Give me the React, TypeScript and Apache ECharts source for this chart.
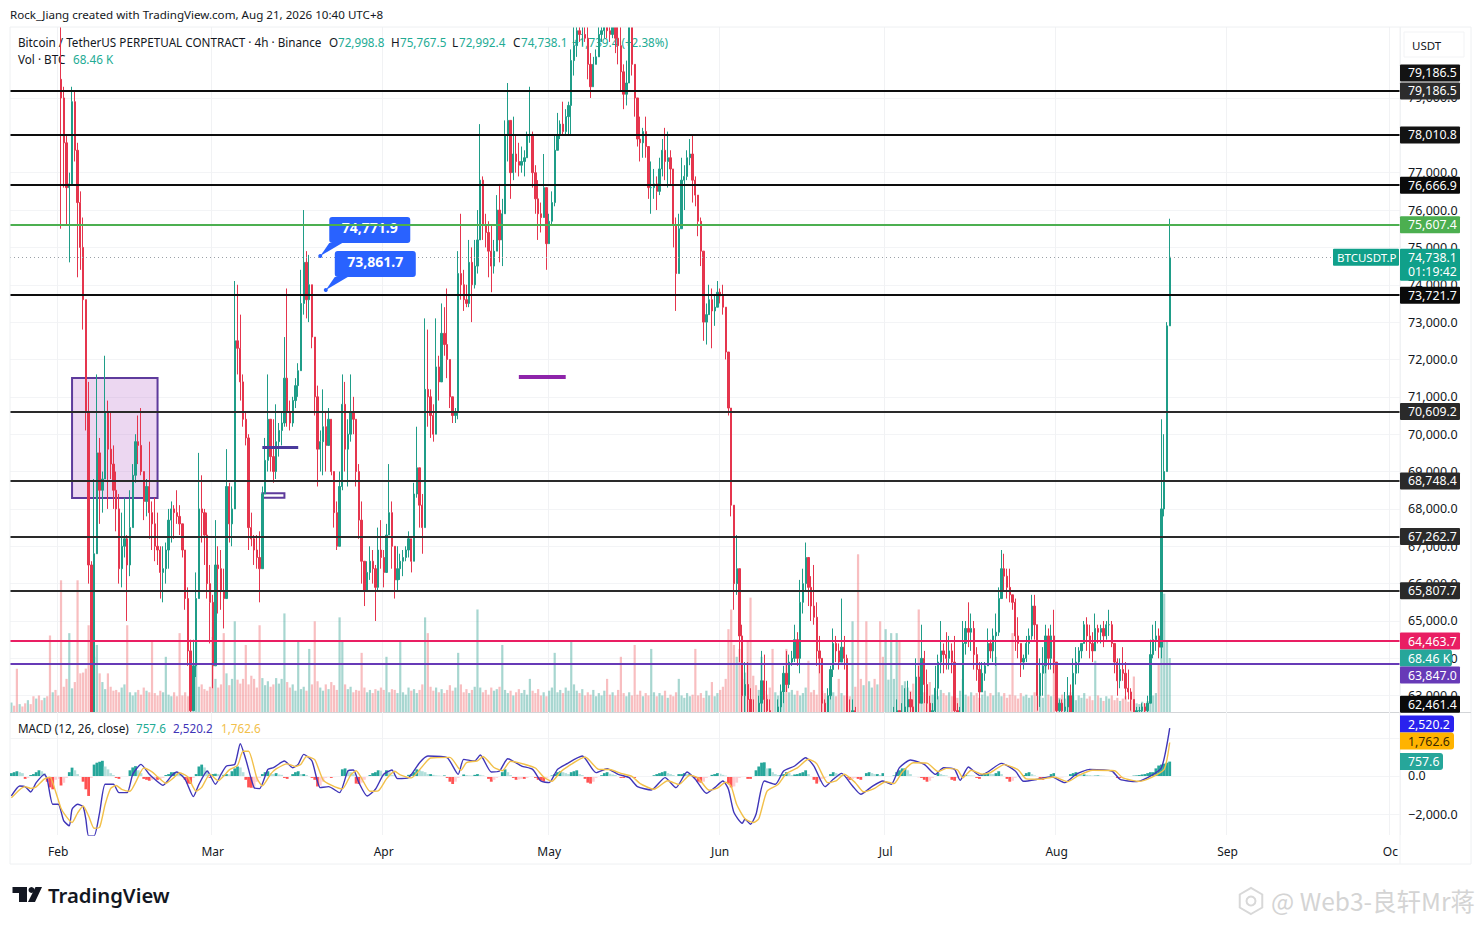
import React, { useEffect, useRef } from "react";
import * as echarts from "echarts";

// Price bars in thousands of USDT, as flat triples: high, low, close. Open is the previous close.
const firstBarSlot = 18;
const firstOpen = 79.5;
const barsFebMar = [
81.5,75.5,79.0, 79.3,76.6,77.8, 78.0,75.6,76.6, 77.0,74.6,76.7, 79.3,76.9,78.9, 79.2,77.3,77.6, 77.8,74.2,76.2, 76.5,74.4,75.0, 75.8,72.8,73.6, 73.2,70.1,70.6,
71.4,66.0,66.5, 66.6,61.5,62.0, 68.8,63.5,66.8, 71.6,67.5,69.5, 69.9,67.6,68.5, 69.0,67.9,68.8, 72.1,69.0,70.6, 70.9,68.0,69.6, 70.6,68.8,69.2, 69.7,68.0,68.5,
69.0,67.4,68.0, 68.4,66.0,66.4, 67.9,65.9,67.0, 68.3,66.7,67.2, 67.3,65.0,66.5, 68.5,66.2,67.5, 69.2,68.0,68.9, 70.0,68.7,69.8, 70.5,69.2,69.7, 70.7,68.9,69.0,
69.0,67.7,68.2, 68.8,67.8,68.6, 69.8,67.2,67.9, 68.2,66.9,67.6, 68.3,66.6,67.0, 67.9,66.5,66.9, 67.0,65.6,66.3, 67.0,65.5,66.4, 67.1,66.0,66.9, 68.0,66.4,67.7,
68.2,67.1,68.0, 68.1,67.2,67.9, 68.5,67.6,67.8, 68.1,67.3,67.6, 67.6,66.7,66.9, 66.8,65.3,65.6, 65.9,63.8,64.2, 64.5,62.2,62.6, 64.5,63.0,63.8, 66.3,63.5,65.6,
69.5,65.6,68.0, 68.9,67.1,67.9, 68.0,66.5,67.3, 67.9,65.6,66.0, 66.5,64.4,65.5, 65.7,63.2,63.8, 67.7,63.8,66.5, 67.0,65.2,66.4, 66.9,65.3,65.8, 66.4,64.8,65.6,
69.6,65.6,68.6, 68.7,67.1,67.6, 68.6,67.0,68.0, 74.1,68.0,72.5, 74.0,71.6,72.3, 73.2,70.9,71.4, 71.6,70.2,70.4, 70.6,69.7,69.9, 70.0,66.9,67.5, 67.9,67.0,67.2,
67.3,66.5,66.9, 67.3,66.4,66.7, 67.4,65.5,66.4, 68.6,66.4,68.4, 69.9,68.4,69.3, 71.6,69.0,70.4, 70.2,69.0,69.4, 70.4,68.7,69.0, 70.8,68.8,69.8, 70.3,69.4,70.1,
70.6,69.7,70.3, 72.6,70.2,71.5, 73.9,70.2,70.6, 70.9,70.1,70.3, 71.0,70.2,70.9, 71.5,70.7,71.3, 71.9,71.0,71.7, 74.4,71.7,73.5, 76.0,73.2,74.6, 74.9,73.1,73.6,
74.8,73.0,74.0,
];
const barsMarMay = [
74.0,72.3,72.6, 72.5,70.5,71.0, 71.3,68.6,69.6, 70.1,69.0,69.8, 71.2,68.9,70.2, 70.6,69.0,69.7, 70.7,69.7,70.4, 70.4,68.9,69.0, 69.0,67.5,67.9, 68.2,66.9,67.0,
69.0,67.0,68.6, 71.6,68.5,70.8, 71.4,69.0,69.6, 70.4,68.6,70.0, 71.6,69.8,70.6, 71.0,70.0,70.4, 70.4,68.6,69.0, 69.2,67.2,67.7, 68.2,66.0,66.6, 66.2,65.4,65.8,
66.6,65.9,66.3, 67.0,66.1,66.6, 66.9,66.0,66.4, 66.5,65.0,65.9, 67.5,65.8,66.9, 67.7,66.4,66.7, 66.9,65.9,66.3, 67.6,66.3,67.3, 69.2,67.3,67.9, 68.2,66.4,67.0,
66.9,65.6,66.1, 67.0,65.8,66.4, 66.8,66.1,66.6, 66.9,66.2,66.7, 67.0,66.6,66.9, 67.4,66.7,67.2, 67.2,66.3,66.6, 68.7,66.7,68.4, 70.2,68.3,69.1, 69.0,67.5,68.1,
68.4,66.8,67.5, 73.1,67.5,71.2, 72.8,70.2,71.0, 71.2,69.9,70.5, 70.8,69.8,70.0, 73.1,70.2,71.8, 72.1,70.9,71.4, 73.5,71.6,72.7, 73.4,72.1,72.4, 73.9,71.5,72.0,
71.4,70.7,71.0, 70.9,70.3,70.5, 70.7,70.3,70.6, 74.9,70.4,74.3, 75.9,73.6,74.0, 74.4,73.3,73.6, 74.0,73.4,73.5, 75.2,73.4,74.6, 75.0,73.0,74.0, 75.2,73.9,74.5,
76.0,74.3,75.2, 78.3,75.3,76.8, 76.9,75.2,75.6, 75.9,75.0,75.4, 75.7,74.2,74.9, 75.6,73.8,74.5, 75.2,74.3,74.9, 76.4,74.9,76.0, 76.7,74.6,75.2, 76.3,74.5,75.9,
78.4,76.0,78.0, 79.4,77.3,78.4, 78.4,76.3,77.0, 78.5,76.8,77.5, 78.0,77.0,77.3, 77.8,76.9,77.2, 77.7,77.0,77.3, 77.6,76.9,77.4, 78.1,77.4,78.0, 79.3,77.8,78.0,
78.1,76.6,77.0, 77.2,75.9,76.3, 76.8,75.2,75.9, 76.2,75.4,75.8, 77.5,75.8,76.6, 76.6,74.4,75.1, 75.9,75.3,75.7, 76.5,75.6,76.2, 78.0,76.1,77.6, 78.6,77.8,78.0,
78.4,77.9,78.3, 78.9,78.0,78.1, 78.7,78.0,78.5, 78.9,78.0,78.8, 80.3,78.0,80.0, 81.0,79.6,80.4, 81.2,80.1,80.8, 81.3,80.5,80.7, 81.0,80.4,80.7, 81.2,80.5,80.6,
81.0,79.5,79.9, 80.2,79.0,79.3, 80.1,79.3,79.9, 80.3,79.9,80.1, 81.0,80.1,80.7,
];
const barsMayJun = [
81.2,80.5,80.8, 81.2,80.6,80.9, 81.0,80.6,80.8, 81.1,80.5,80.7, 81.1,80.6,80.9, 81.0,80.2,80.6, 81.0,79.9,80.4, 81.1,79.2,79.7, 79.9,78.7,79.1, 80.0,78.8,79.4,
81.2,79.4,80.9, 81.1,79.6,79.9, 79.9,78.5,79.0, 79.0,77.7,77.9, 78.5,77.3,77.8, 78.2,77.4,78.1, 78.5,77.4,77.7, 77.6,76.3,76.6, 77.3,75.9,76.6, 77.1,76.3,76.7,
76.9,76.0,76.5, 77.4,76.4,77.1, 77.9,76.9,77.6, 78.2,76.8,77.3, 78.1,76.6,77.4, 77.6,76.7,77.1, 77.1,75.0,75.6, 75.8,73.3,74.3, 75.9,74.3,75.5, 77.4,75.5,76.8,
77.2,76.0,76.9, 77.6,76.8,77.4, 77.9,77.2,77.5, 78.0,76.2,76.8, 76.9,76.1,76.4, 76.4,75.3,75.7, 75.8,74.5,74.9, 74.9,72.5,73.0, 73.5,72.4,73.2, 74.0,73.2,73.6,
73.9,72.3,73.3, 73.7,72.9,73.4, 74.1,73.4,73.8, 73.9,73.5,73.7, 74.0,73.2,73.4, 73.0,72.0,72.2, 72.0,70.5,70.7, 70.6,67.8,68.1, 67.9,65.3,66.0, 67.3,65.7,66.4,
65.9,63.9,64.6, 64.9,62.3,63.0, 63.9,62.4,63.3, 63.9,62.4,62.9, 63.2,62.2,62.5, 62.9,62.2,62.4, 62.4,62.0,62.2, 63.0,62.1,62.8, 64.2,62.5,63.4, 64.1,62.4,62.9,
63.4,62.3,62.6, 62.9,62.2,62.4, 62.5,62.2,62.3, 62.5,62.1,62.4, 62.9,62.2,62.7, 63.3,62.4,63.1, 63.8,62.8,63.6, 64.2,63.1,63.3, 64.1,63.2,63.9, 64.2,63.8,64.0,
64.9,63.9,64.5, 64.7,63.8,64.0, 66.1,63.6,65.5, 66.4,65.2,66.0, 67.1,65.8,66.7, 66.7,65.4,65.9, 66.2,65.0,65.4, 66.5,64.9,65.1, 65.5,63.8,64.2, 64.6,63.6,64.0,
64.0,62.4,62.8, 62.9,62.2,62.5, 63.2,62.4,63.0, 63.8,62.9,63.7, 64.8,63.5,64.4, 64.6,63.9,64.2, 64.4,63.7,63.9, 65.6,64.0,64.3, 64.6,63.7,64.0, 64.1,62.3,62.5,
62.9,62.2,62.4, 62.9,62.3,62.6, 62.7,62.1,62.3, 62.3,61.6,61.9, 62.2,61.5,61.8, 62.3,61.7,62.0, 62.2,61.5,61.7, 62.1,61.4,61.9, 62.3,61.6,62.0, 62.2,61.6,61.8,
62.3,61.5,62.1, 62.4,61.8,62.0, 62.2,61.6,61.9, 62.3,61.7,62.1, 62.4,61.8,62.1,
];
const barsJulAug = [
62.5,62.0,62.3, 62.7,62.1,62.4, 62.9,62.2,62.6, 62.6,62.0,62.3, 62.8,62.2,62.5, 63.2,62.3,62.7, 63.4,62.4,62.9, 63.1,62.4,62.7, 62.9,62.3,62.5, 64.0,62.4,63.5, 63.8,62.5,62.8,
64.9,63.0,64.0, 64.2,62.8,63.3, 63.7,62.4,62.8, 63.0,62.3,62.5, 62.8,62.2,62.6, 63.8,62.4,63.2, 64.1,62.9,63.9, 65.0,63.6,64.2, 64.4,63.6,64.1, 64.7,63.7,64.0,
64.6,63.7,64.2, 64.4,63.6,63.9, 64.6,62.4,62.6, 62.8,62.1,62.4, 62.7,62.1,62.5, 65.0,62.5,64.4, 65.0,64.1,64.8, 65.5,64.3,64.7, 65.2,64.2,64.8, 65.0,63.7,64.1,
64.3,63.4,63.7, 63.9,62.4,63.1, 63.9,63.1,63.6, 63.9,63.4,63.8, 64.8,63.8,64.4, 64.5,64.0,64.2, 64.8,63.9,64.6, 65.2,63.8,64.7, 65.9,64.6,65.6, 66.9,65.8,66.4,
66.8,65.8,66.2, 66.4,65.6,65.9, 66.4,65.5,65.7, 65.7,65.3,65.5, 65.6,64.2,64.6, 65.1,64.0,64.4, 64.3,63.5,63.9, 64.1,63.7,64.0, 64.6,63.9,64.4, 64.8,64.1,64.6,
65.7,64.5,65.4, 65.7,64.5,64.9, 64.9,62.6,63.0, 64.0,62.7,63.6, 64.3,63.0,63.8, 64.9,63.6,64.6, 64.8,63.7,64.0, 64.9,63.7,64.6, 65.3,63.6,63.9, 63.9,62.4,62.6,
62.9,62.3,62.8, 62.9,62.2,62.6, 63.1,62.3,62.7, 63.5,62.4,63.0, 63.3,62.2,62.5, 64.0,62.5,63.6, 64.3,63.3,63.9, 64.3,63.6,64.2, 64.4,64.0,64.4, 65.0,64.4,64.9,
65.1,64.2,64.6, 64.9,64.0,64.4, 64.7,63.9,64.2, 65.2,64.2,64.8, 64.9,64.4,64.7, 64.9,64.4,64.8, 65.0,64.3,64.6, 65.0,64.5,64.9, 65.3,64.6,64.9, 65.0,64.3,64.4,
64.4,63.6,63.9, 64.0,63.0,63.4, 64.0,63.2,63.7, 64.3,63.4,63.6, 63.9,62.9,63.2, 63.7,62.9,63.1, 63.2,62.6,62.9, 62.9,62.1,62.4, 62.7,62.3,62.6, 62.7,62.5,62.6,
62.8,62.5,62.7, 62.8,62.4,62.6, 63.0,62.3,62.8, 64.5,62.8,64.1, 64.9,64.0,64.5, 65.0,64.2,64.6, 64.8,64.0,64.3, 70.4,64.0,68.0, 70.0,67.8,69.0, 73.0,69.0,72.9,
75.7675,72.9924,74.7381,
];

// Volume in thousands of BTC, one value per 12-hour slot.
const volumes = [
12,8,55,10,7,11,15,10,20,17,21,15,18,20,97,25,28,21,167,32,
42,100,30,38,167,49,50,55,110,150,70,85,49,38,29,49,32,27,28,25,
31,35,110,25,21,25,28,22,31,27,25,90,24,21,27,25,70,22,20,25,
20,100,21,25,20,28,24,90,32,35,29,27,32,95,42,31,35,100,49,34,
42,115,41,36,42,85,35,46,42,31,110,43,34,39,32,35,43,36,42,125,
38,31,35,27,90,29,32,27,80,35,115,39,31,27,35,29,38,34,28,120,
90,35,29,32,25,28,27,75,31,25,28,24,29,27,31,28,70,25,29,28,
24,90,25,22,31,27,29,24,28,35,120,100,32,27,31,25,29,24,28,34,
27,31,75,35,25,29,24,28,32,130,31,25,28,22,31,27,29,32,85,28,
24,27,21,25,29,24,28,22,42,27,24,29,21,25,20,27,31,75,25,28,
24,31,27,90,35,27,24,29,21,25,22,28,20,24,21,27,42,22,25,21,
28,70,24,20,25,21,85,22,27,20,24,21,80,25,20,24,21,27,18,22,
20,25,42,21,18,24,20,22,80,21,24,18,27,21,38,20,24,28,32,42,
105,130,85,70,80,42,50,90,145,46,34,28,70,27,22,31,80,25,21,27,
24,80,25,28,22,27,21,24,31,65,25,28,22,70,27,24,21,29,25,20,
42,24,21,27,20,115,32,200,42,34,115,39,31,42,35,115,70,105,41,100,
42,100,90,34,39,31,27,36,28,130,32,25,29,38,22,27,20,28,24,21,
25,20,24,18,27,42,22,20,25,21,24,18,22,27,20,24,21,70,25,20,
24,18,22,100,21,17,24,20,22,18,21,25,20,24,18,95,22,20,70,21,
18,22,17,21,25,20,15,21,18,24,17,20,15,65,21,18,14,20,17,21,
15,18,14,17,20,13,15,45,11,10,13,11,14,15,21,24,60,120,150,90,
68.46,
];

// MACD pane: [slot, value]
const macdLine = [[0,-1050],[3,-525],[5,-560],[7,-840],[9,-350],[12,88],[13,-175],[15,-1488],[17,-1488],[19,-2363],[21,-2625],[22,-1750],[24,-1488],[26,-1610],[27,-2275],[28,-3150],[30,-3150],[32,-1925],[34,-438],[37,-438],[39,-875],[42,-875],[44,88],[47,613],[50,88],[52,-175],[55,-490],[58,0],[60,210],[63,-175],[66,-1085],[68,-438],[71,263],[74,-438],[76,88],[78,525],[81,613],[83,1698],[85,875],[88,-613],[90,-665],[93,350],[95,438],[99,788],[102,438],[104,613],[106,1138],[109,788],[112,-613],[115,-560],[119,-875],[122,263],[124,315],[126,-350],[129,-1050],[132,-700],[135,88],[138,315],[140,-140],[144,-88],[148,700],[151,1050],[158,963],[162,88],[164,875],[168,788],[170,1103],[174,210],[177,263],[180,910],[185,525],[189,350],[192,-263],[195,-350],[198,350],[201,613],[207,1050],[212,175],[216,385],[220,88],[224,-88],[227,-560],[232,-735],[237,-88],[241,-613],[245,210],[248,-175],[252,-910],[255,-613],[258,-263],[260,-700],[262,-1925],[265,-2485],[266,-2275],[268,-2538],[270,-2013],[273,-263],[277,-438],[280,263],[284,525],[288,963],[291,525],[295,-560],[298,-175],[301,140],[305,-525],[308,-963],[312,-560],[316,-263],[319,-438],[322,438],[326,840],[331,613],[335,88],[338,438],[342,350],[344,-228],[347,473],[351,35],[354,210],[359,665],[364,263],[367,-280],[372,-175],[377,-35],[382,-350],[386,88],[391,350],[399,263],[402,-175],[408,-298],[412,-88],[417,438],[420,2520.2]];
const signalLine = [[0,-1150],[3,-720],[5,-560],[7,-650],[9,-570],[12,-150],[14,-60],[16,-800],[18,-1700],[20,-2150],[22,-2450],[24,-1950],[26,-1580],[28,-2100],[30,-2750],[32,-2700],[34,-1500],[36,-650],[38,-500],[40,-700],[43,-800],[45,-350],[48,420],[51,220],[53,-40],[56,-380],[59,-70],[61,170],[64,-50],[67,-800],[69,-600],[72,100],[75,-250],[77,0],[79,320],[82,560],[84,1300],[86,1300],[89,-100],[91,-520],[94,100],[96,370],[100,640],[103,500],[105,620],[107,1030],[110,860],[113,-200],[116,-480],[120,-680],[123,50],[125,280],[127,-120],[130,-800],[133,-780],[136,-150],[139,250],[141,60],[145,-100],[149,500],[152,950],[159,980],[163,300],[165,700],[169,800],[171,1030],[175,450],[178,280],[181,780],[186,620],[190,420],[193,-50],[196,-280],[199,200],[202,520],[208,1000],[213,350],[217,340],[221,140],[225,-20],[228,-400],[233,-700],[238,-250],[242,-450],[246,40],[249,-100],[253,-750],[256,-640],[259,-330],[261,-550],[263,-1500],[266,-2250],[269,-2450],[271,-2250],[274,-800],[278,-450],[281,130],[285,430],[289,880],[292,650],[296,-350],[299,-260],[302,90],[306,-350],[309,-830],[313,-650],[317,-300],[320,-400],[323,200],[327,700],[332,680],[336,230],[339,400],[343,320],[345,-90],[348,300],[352,100],[355,180],[360,600],[365,330],[368,-150],[373,-170],[378,-50],[383,-300],[387,30],[392,300],[400,280],[403,-100],[409,-280],[413,-100],[418,350],[420,1762.6]];
const histogram = [
150,200,250,200,150,-150,-100,50,100,200,300,250,150,-300,-600,-700,-200,-150,-500,-350,-100,200,440,300,100,0,-300,-700,-1050,-100,600,700,750,800,500,350,150,50,-100,-150,-50,-30,-50,300,450,520,300,150,-150,-200,-250,-200,-150,-200,-150,-100,50,100,200,200,150,100,60,-200,-400,-420,-100,100,500,600,450,300,-100,100,120,100,-60,60,100,80,250,400,500,450,200,-200,-600,-620,-550,-300,-100,100,200,250,150,100,150,80,60,-100,-150,-50,100,200,250,100,100,50,-50,-100,-200,-550,-500,-300,-100,-60,-100,-60,-40,-30,
350,400,300,200,100,-400,-420,-350,-200,-60,50,150,200,300,280,100,300,200,60,40,-60,-30,-40,-20,60,100,200,350,300,250,200,100,
100,60,30,20,10,30,-100,-300,-420,-300,-100,-50,80,50,30,20,60,100,60,30,-30,-150,-300,-200,-100,-30,200,350,200,50,-100,-200,-180,-150,-150,-100,-50,-30,
-100,-200,-250,-300,-100,-40,30,100,200,250,200,150,100,200,250,300,100,50,-150,-350,-400,-300,-100,-50,40,150,200,120,80,50,-50,-100,-100,-50,-80,-60,-100,-50,-30,-20,-30,-50,-30,40,100,150,200,250,150,100,50,-30,100,
100,150,100,100,30,-100,-300,-350,-300,-100,-30,60,100,150,120,60,20,-400,-600,-550,-350,-100,-60,-30,-150,-150,-40,300,500,700,720,400,400,200,100,50,50,100,200,150,50,80,100,150,200,300,100,-50,-200,-400,-300,-150,-100,-30,100,200,150,100,50,30,-100,-200,-150,-100,-150,-200,-60,150,200,150,100,100,50,150,-30,-50,-30,
30,200,300,400,400,300,100,-30,-40,-60,-100,-200,-300,-250,-100,-30,150,100,50,30,-60,-200,-250,-100,-30,-20,60,50,30,20,-100,-150,100,120,150,120,100,150,250,100,-50,-150,-300,-250,-100,-30,-20,50,150,200,100,30,-50,-120,-200,-100,-50,100,150,-40,-60,-60,-30,-20,100,150,200,100,50,80,60,40,20,20,30,20,10,-20,-20,-30,-20,-100,-100,-80,-50,-40,-30,20,30,50,80,100,150,200,200,400,550,600,650,700,757.6,
];

// Axis ticks and month labels
const slotCount = 504;
const monthLabels: Record<number, string> = { 17: "Feb", 73: "Mar", 135: "Apr", 195: "May", 257: "Jun", 317: "Jul", 379: "Aug", 441: "Sep", 500: "Oc" };
const priceTicks = [63000,64000,65000,66000,67000,68000,69000,70000,71000,72000,73000,74000,75000,76000,77000,78000,79000];
const macdTicks = [-2000,0,2000];

// Horizontal levels: value, colour, width
const levels: [number, string, number][] = [
  [79186.5,"#0d0d0d",2],[78010.8,"#0d0d0d",2],[76666.9,"#0d0d0d",2],[75607.4,"#4caf50",2],[73721.7,"#0d0d0d",2],
  [70609.2,"#2a2a2a",2],[68748.4,"#2a2a2a",2],[67262.7,"#2a2a2a",2],[65807.7,"#2a2a2a",2],[64463.7,"#e91e63",2],[63847.0,"#673ab7",2],
];
const lastPrice = 74738.1;

// Price tags on the right scale: label, axis, value, pixel nudge (for stacking), fill, text colour, width
const tags: [string, string, number, number, string, string, number][] = [
  ["79,186.5","price",79186.5,-18,"#131313","#fff",60],["78,010.8","price",78010.8,0,"#131313","#fff",60],["76,666.9","price",76666.9,0,"#0a0a0a","#fff",60],
  ["79,186.5","price",79186.5,0,"#2c2c2c","#fff",60],["75,607.4","price",75607.4,0,"#4caf50","#fff",60],["73,721.7","price",73721.7,0,"#0a0a0a","#fff",60],
  ["70,609.2","price",70609.2,0,"#2a2a2a","#fff",60],["68,748.4","price",68748.4,0,"#2a2a2a","#fff",60],["67,262.7","price",67262.7,0,"#2a2a2a","#fff",60],
  ["65,807.7","price",65807.7,0,"#2a2a2a","#fff",60],["64,463.7","price",64463.7,0,"#e91e63","#fff",60],["68.46 K","vol",68.46,0,"#26a69a","#fff",52],
  ["63,847.0","price",63847.0,11,"#673ab7","#fff",60],["62,461.4","price",62461.4,-11.5,"#0a0a0a","#fff",60],
  ["2,520.2","macd",2520.2,-4,"#2a22ee","#fff",54],["1,762.6","macd",1762.6,-1.5,"#ffb300","#3a2a00",54],["757.6","macd",757.6,0,"#26a69a","#fff",43],
];

const fontUI = '"Noto Sans", sans-serif';
const UP = "#1f9d88", DOWN = "#e5354d";

function buildBars() {
  const flat = [...barsFebMar, ...barsMarMay, ...barsMayJun, ...barsJulAug];
  const out: any[] = new Array(firstBarSlot).fill("-");
  const vols: any[] = [];
  let open = firstOpen;
  for (let i = 0; i + 2 < flat.length; i += 3) {
    const [h, l, c] = [flat[i], flat[i + 1], flat[i + 2]];
    out.push([open * 1000, c * 1000, Math.min(l, open, c) * 1000, Math.max(h, open, c) * 1000]);
    open = c;
  }
  volumes.forEach((v, i) => {
    const b = out[i];
    const up = b && b !== "-" ? b[1] >= b[0] : i % 3 === 0;
    vols.push({ value: v, itemStyle: { color: up ? "rgba(60,165,150,0.45)" : "rgba(240,110,115,0.45)" } });
  });
  return { out, vols };
}

export default function App() {
  const ref = useRef<HTMLDivElement>(null);
  useEffect(() => {
    document.body.style.margin = "0";
    const chart = echarts.init(ref.current!, undefined, { renderer: "svg" });
    const { out, vols } = buildBars();
    const categories = Array.from({ length: slotCount }, (_, i) => monthLabels[i] ?? String(i));
    const isMonth = (i: number) => monthLabels[i] !== undefined;
    const histData = histogram.map((v, i) => {
      const prev = i ? histogram[i - 1] : 0;
      const color = v >= 0 ? (v >= prev ? "#26a69a" : "#b2dfdb") : (v <= prev ? "#ff5252" : "#ffcdd2");
      return { value: v, itemStyle: { color } };
    });
    const priceMin = 62564, priceMax = 80899.6;
    const gridLine = { lineStyle: { color: "#f3f4f6", width: 1 } };
    const histAll = { show: true, interval: (i: number) => isMonth(i), lineStyle: { color: "#f1f2f4", width: 1 } };
    const fmt = (v: number) => (v < 0 ? "\u2212" : "") + Math.abs(v).toLocaleString("en-US", { minimumFractionDigits: 1, maximumFractionDigits: 1 });

    const option: any = {
      animation: false,
      backgroundColor: "#ffffff",
      grid: [
        { left: 10, top: 27, width: 1390, height: 685 },
        { left: 10, top: 712, width: 1390, height: 123 },
      ],
      xAxis: [
        { type: "category", gridIndex: 0, data: categories, axisLine: { show: false }, axisTick: { show: false }, axisLabel: { show: false }, splitLine: histAll },
        { type: "category", gridIndex: 1, data: categories, z: 6, axisLine: { show: false }, axisTick: { show: false },
          axisLabel: { interval: (i: number) => isMonth(i), formatter: (v: string) => v, color: "#131722", fontFamily: fontUI, fontSize: 12, margin: 10, hideOverlap: false },
          splitLine: histAll },
      ],
      yAxis: [
        { type: "value", gridIndex: 0, position: "right", min: priceMin, max: priceMax, axisLine: { show: false },
          axisTick: { show: false, customValues: priceTicks }, splitLine: { show: true, ...gridLine },
          axisLabel: { customValues: priceTicks, formatter: fmt, color: "#131722", fontFamily: fontUI, fontSize: 12.5, margin: 8 } },
        { type: "value", gridIndex: 0, position: "right", min: 0, max: 868.6, show: false, splitLine: { show: false } },
        { type: "value", gridIndex: 1, position: "right", min: -3105, max: 3368, z: 6, axisLine: { show: false },
          axisTick: { show: false, customValues: macdTicks }, splitLine: { show: true, ...gridLine },
          axisLabel: { customValues: macdTicks, formatter: fmt, color: "#131722", fontFamily: fontUI, fontSize: 12.5, margin: 8 } },
      ],
      series: [
        { type: "bar", name: "Vol", xAxisIndex: 0, yAxisIndex: 1, data: vols, barWidth: 2.2, z: 1, silent: true },
        { type: "candlestick", name: "BTCUSDT.P", xAxisIndex: 0, yAxisIndex: 0, data: out, barWidth: 1.8, z: 2, clip: true, silent: true,
          itemStyle: { color: UP, color0: DOWN, borderColor: UP, borderColor0: DOWN, borderWidth: 1 },
          markLine: { silent: true, symbol: "none", animation: false, label: { show: false }, z: 3, data: [
            ...levels.map(([v, c, w]) => ({ yAxis: v, lineStyle: { color: c, width: w, type: "solid" } })),
            { yAxis: lastPrice, lineStyle: { color: "#9aa0a6", width: 1, type: [1, 3] } },
            [{ xAxis: 91, yAxis: 69657, lineStyle: { color: "#4a3a9c", width: 3, type: "solid" } }, { xAxis: 104, yAxis: 69657 }],
            [{ xAxis: 184, yAxis: 71531, lineStyle: { color: "#8e24aa", width: 4, type: "solid" } }, { xAxis: 201, yAxis: 71531 }],
          ] },
          markArea: { silent: true, animation: false, data: [
            [{ xAxis: 22, yAxis: 71504, itemStyle: { color: "rgba(185,110,205,0.28)", borderColor: "#5e3b9c", borderWidth: 2 } }, { xAxis: 53, yAxis: 68291 }],
            [{ xAxis: 91, yAxis: 68420, itemStyle: { color: "rgba(255,255,255,0.85)", borderColor: "#5e3b9c", borderWidth: 2 } }, { xAxis: 99, yAxis: 68300 }],
          ] } },
        { type: "bar", name: "Histogram", xAxisIndex: 1, yAxisIndex: 2, data: histData, barWidth: 2.8, z: 5, silent: true },
        { type: "line", name: "MACD", xAxisIndex: 1, yAxisIndex: 2, data: macdLine, showSymbol: false, smooth: 0.2, z: 6, silent: true, lineStyle: { color: "#3f35b8", width: 1.4 },
          markLine: { silent: true, symbol: "none", label: { show: false }, data: [{ yAxis: 0, lineStyle: { color: "#c9ccd1", width: 1, type: "dashed" } }] } },
        { type: "line", name: "Signal", xAxisIndex: 1, yAxisIndex: 2, data: signalLine, showSymbol: false, smooth: 0.2, z: 6, silent: true, lineStyle: { color: "#f2c04a", width: 1.4 } },
      ],
    };
    chart.setOption(option);

    const yOf = (axis: string, v: number) => chart.convertToPixel({ yAxisIndex: axis === "price" ? 0 : axis === "vol" ? 1 : 2 }, v) as number;
    const xOf = (slot: number) => chart.convertToPixel({ xAxisIndex: 0 }, slot) as number;
    const txt = (x: number, y: number, text: string, fill: string, size = 12, z = 12, extra: any = {}) => ({
      type: "text", z, silent: true, style: { x, y, text, fill, font: `${extra.weight ?? "normal"} ${size}px ${extra.family ?? fontUI}`, textAlign: extra.align ?? "left", textVerticalAlign: "middle" },
    });
    const g: any[] = [];
    // frame and covers
    g.push({ type: "rect", z: 3, silent: true, shape: { x: 0, y: 0, width: 1481, height: 27 }, style: { fill: "#fff" } });
    g.push({ type: "rect", z: 3, silent: true, shape: { x: 10, y: 712, width: 1380, height: 123 }, style: { fill: "#fff" } });
    g.push({ type: "rect", z: 4, silent: true, shape: { x: 10, y: 27, width: 1461, height: 837 }, style: { fill: "none", stroke: "#eef0f2", lineWidth: 1 } });
    g.push({ type: "line", z: 4, silent: true, shape: { x1: 10, y1: 712.5, x2: 1471, y2: 712.5 }, style: { stroke: "#d3d5d8", lineWidth: 1 } });
    g.push({ type: "line", z: 4, silent: true, shape: { x1: 1400, y1: 27, x2: 1400, y2: 864 }, style: { stroke: "#f0f1f3", lineWidth: 1 } });
    // top caption
    g.push(txt(10, 14.5, "Rock_Jiang created with TradingView.com, Aug 21, 2026 10:40 UTC+8", "#131722", 11.6));
    // USDT box
    g.push({ type: "rect", z: 4, silent: true, shape: { x: 1404, y: 32, width: 60, height: 25 }, style: { fill: "#fff", stroke: "#f2f3f5" } });
    g.push(txt(1412, 45, "USDT", "#131722", 11.5));
    // legend, under the candles
    const leg = (x: number, y: number, t: string, c: string) => txt(x, y, t, c, 11.7, 1);
    g.push(leg(18, 41.5, "Bitcoin / TetherUS PERPETUAL CONTRACT \u00b7 4h \u00b7 Binance", "#131722"));
    const G = "#22ab94";
    g.push(leg(329, 41.5, "O", "#131722"), leg(338, 41.5, "72,998.8", G), leg(391, 41.5, "H", "#131722"), leg(400, 41.5, "75,767.5", G));
    g.push(leg(452, 41.5, "L", "#131722"), leg(459, 41.5, "72,992.4", G), leg(513, 41.5, "C", "#131722"), leg(521, 41.5, "74,738.1", G));
    g.push(leg(572, 41.5, "+1,739.4 (+2.38%)", G));
    g.push(leg(18, 58.5, "Vol \u00b7 BTC", "#131722"), leg(73, 58.5, "68.46 K", G));
    // MACD legend
    g.push(txt(18, 727.5, "MACD (12, 26, close)", "#131722", 11.7), txt(136, 727.5, "757.6", G, 11.7), txt(173, 727.5, "2,520.2", "#3f35b8", 11.7), txt(221, 727.5, "1,762.6", "#f2c04a", 11.7));
    // right tags
    const font = 12.3;
    tags.forEach(([label, axis, v, dy, fill, color, w]) => {
      const y = yOf(axis, v) + dy;
      g.push({ type: "rect", z: 10, silent: true, shape: { x: 1400, y: y - 8.5, width: Number(w), height: 17, r: axis === "price" ? 1 : [0, 3, 3, 0] }, style: { fill } });
      g.push(txt(1408, y, label, color, font, 11));
    });
    const pY = yOf("price", lastPrice);
    g.push({ type: "rect", z: 10, silent: true, shape: { x: 1400, y: pY - 8.5, width: 60, height: 32, r: 1 }, style: { fill: "#10a08a" } });
    g.push(txt(1408, pY, "74,738.1", "#fff", font, 11), txt(1408, pY + 14.5, "01:19:42", "#fff", font, 11));
    g.push({ type: "rect", z: 10, silent: true, shape: { x: 1333, y: pY - 8.5, width: 66, height: 17, r: 1 }, style: { fill: "#10a08a" } });
    g.push(txt(1337, pY, "BTCUSDT.P", "#fff", 11.5, 11));
    // callouts
    const callout = (slot: number, val: number, label: string, z: number) => {
      const x = xOf(slot), y = yOf("price", val);
      g.push({ type: "polygon", z, silent: true, shape: { points: [[x, y], [x + 9, y - 13], [x + 22, y - 13]] }, style: { fill: "#2962ff" } });
      g.push({ type: "circle", z, silent: true, shape: { cx: x, cy: y, r: 2 }, style: { fill: "#2962ff" } });
      g.push({ type: "rect", z, silent: true, shape: { x: x + 9, y: y - 39, width: 81, height: 26, r: 3 }, style: { fill: "#2962ff" } });
      g.push(txt(x + 49.5, y - 28, label, "#fff", 14, z, { align: "center", weight: "bold" }));
    };
    callout(111.5, 74771.9, "74,771.9", 1);
    callout(113.7, 73861.7, "73,861.7", 4);
    // logo
    const K = "#131722";
    g.push({ type: "rect", z: 12, silent: true, shape: { x: 12.5, y: 887, width: 14.5, height: 6 }, style: { fill: K } });
    g.push({ type: "rect", z: 12, silent: true, shape: { x: 19, y: 887, width: 8, height: 15 }, style: { fill: K } });
    g.push({ type: "circle", z: 12, silent: true, shape: { cx: 31.5, cy: 890, r: 3 }, style: { fill: K } });
    g.push({ type: "polygon", z: 12, silent: true, shape: { points: [[35.5, 887], [42, 887], [35, 902], [28, 902]] }, style: { fill: K } });
    g.push(txt(48, 894.5, "TradingView", K, 20.3, 12, { weight: "600" }));
    // watermark
    const hx = 1251, hy = 901, hr = 13;
    g.push({ type: "polygon", z: 12, silent: true, shape: { points: [0, 1, 2, 3, 4, 5].map((k) => [hx + hr * Math.sin((k * Math.PI) / 3), hy + hr * Math.cos((k * Math.PI) / 3)]) }, style: { fill: "none", stroke: "#d8d8d8", lineWidth: 2 } });
    g.push({ type: "circle", z: 12, silent: true, shape: { cx: hx, cy: hy, r: 4.5 }, style: { fill: "none", stroke: "#d8d8d8", lineWidth: 2 } });
    g.push(txt(1271, 900, "@ Web3-\u826f\u8f69Mr\u848b", "#d4d4d4", 24.5, 12, { family: '"Noto Sans CJK SC", sans-serif' }));
    chart.setOption({ graphic: { elements: g } });
    return () => chart.dispose();
  }, []);
  return <div ref={ref} style={{ position: "fixed", left: 0, top: 0, width: 1481, height: 925, background: "#fff" }} />;
}
